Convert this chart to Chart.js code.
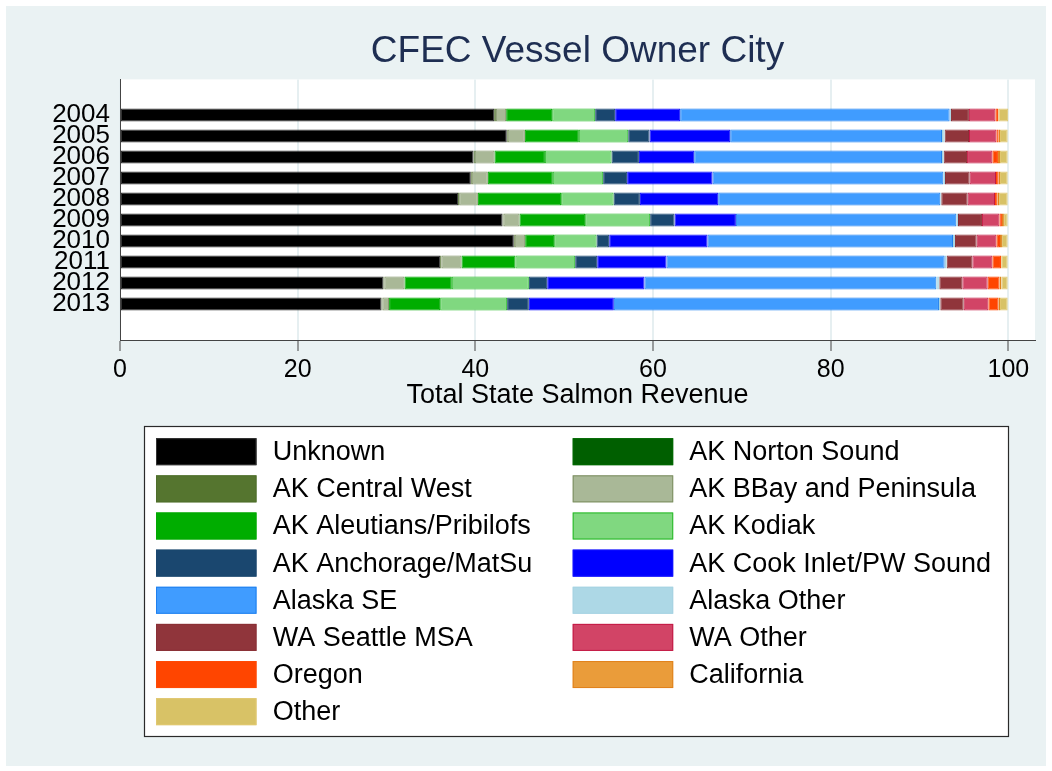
<!DOCTYPE html>
<html>
<head>
<meta charset="utf-8">
<style>
html,body{margin:0;padding:0;background:#ffffff;}
#wrap{width:1052px;height:771px;}
</style>
<script src="https://cdn.jsdelivr.net/npm/chart.js@4.4.1/dist/chart.umd.min.js"></script>
</head>
<body>
<div id="wrap"><canvas id="c" width="1052" height="771"></canvas></div>
<script>
const years = ['2004','2005','2006','2007','2008','2009','2010','2011','2012','2013'];
const xTicks = [0, 20, 40, 60, 80, 100];

const unknown       = [42.12, 43.54, 39.79, 39.49, 38.06, 43.06, 44.33, 36.04, 29.65, 29.43];
const nortonSound   = [0, 0, 0, 0, 0, 0, 0, 0, 0, 0];
const centralWest   = [0.19, 0.11, 0.15, 0.11, 0.12, 0.11, 0.11, 0.15, 0.12, 0.11];
const bbayPeninsula = [1.16, 1.92, 2.21, 1.80, 2.10, 1.80, 1.17, 2.25, 2.25, 0.75];
const aleutians     = [5.18, 6.08, 5.68, 7.32, 9.38, 7.39, 3.26, 6.08, 5.33, 5.75];
const kodiak        = [4.84, 5.56, 7.50, 5.67, 5.90, 7.32, 4.77, 6.72, 8.67, 7.54];
const anchorage     = [2.25, 2.40, 3.08, 2.70, 2.96, 2.74, 1.43, 2.48, 2.07, 2.44];
const cookInlet     = [7.32, 9.08, 6.23, 9.61, 8.82, 6.91, 11.07, 7.80, 10.95, 9.57];
const alaskaSE      = [30.33, 23.84, 27.89, 25.98, 25.00, 24.81, 27.63, 31.31, 32.85, 36.60];
const alaskaOther   = [0.15, 0.30, 0.19, 0.19, 0.11, 0.19, 0.22, 0.23, 0.34, 0.15];
const waSeattle     = [2.02, 2.74, 2.63, 2.77, 2.97, 2.70, 2.44, 2.89, 2.59, 2.63];
const waOther       = [2.98, 3.08, 2.85, 2.97, 3.08, 1.96, 2.22, 2.25, 2.85, 2.78];
const oregon        = [0.30, 0.26, 0.63, 0.30, 0.26, 0.29, 0.41, 0.97, 1.32, 1.12];
const california    = [0.07, 0.15, 0.23, 0.15, 0.19, 0.22, 0.22, 0.03, 0.22, 0.19];
const other         = [1.08, 0.86, 0.86, 0.86, 0.97, 0.42, 0.64, 0.72, 0.71, 0.86];

const seriesNames = ['Unknown','AK Norton Sound','AK Central West','AK BBay and Peninsula','AK Aleutians/Pribilofs','AK Kodiak','AK Anchorage/MatSu','AK Cook Inlet/PW Sound','Alaska SE','Alaska Other','WA Seattle MSA','WA Other','Oregon','California','Other'];
const seriesValues = [unknown, nortonSound, centralWest, bbayPeninsula, aleutians, kodiak, anchorage, cookInlet, alaskaSE, alaskaOther, waSeattle, waOther, oregon, california, other];
const fillColors = ['#000000','#005f00','#55752f','#a9b897','#00ad00','#80d880','#1a476f','#0000ff','#409cff','#add8e6','#90353b','#d24466','#ff4500','#ea9c3a','#d8c266'];
const lineColors = ['#333333','#006a00','#4e6e2a','#7d8f62','#02a802','#28bb28','#1a476f','#1010ff','#1f80ee','#a6d3e2','#8a3036','#c41a45','#ff4a05','#e0821c','#e1c870'];

const FONT = "'Liberation Sans', Arial, Helvetica, sans-serif";

const bgPlugin = {
  id: 'bg',
  beforeDraw(chart) {
    const ctx = chart.ctx, a = chart.chartArea;
    ctx.save();
    ctx.fillStyle = '#ffffff';
    ctx.fillRect(0, 0, chart.width, chart.height);
    ctx.fillStyle = '#eaf2f3';
    ctx.fillRect(6, 6, 1040, 760);
    ctx.fillStyle = '#ffffff';
    ctx.fillRect(a.left, a.top, a.right - a.left, a.bottom - a.top);
    ctx.restore();
  }
};

const legendPlugin = {
  id: 'boxLegend',
  afterDraw(chart) {
    const ctx = chart.ctx;
    ctx.save();
    ctx.fillStyle = '#ffffff';
    ctx.fillRect(144, 426, 865, 310);
    ctx.strokeStyle = '#2a2a2a';
    ctx.lineWidth = 1.2;
    ctx.strokeRect(144.5, 426.5, 864, 310);
    const colSwatch = [156, 572.7];
    const colText = [272.7, 689.3];
    ctx.font = '27px ' + FONT;
    ctx.textBaseline = 'middle';
    ctx.textAlign = 'left';
    chart.data.datasets.forEach((ds, i) => {
      const col = i % 2, row = Math.floor(i / 2);
      const cy = 451.7 + row * 37.14;
      ctx.fillStyle = ds.backgroundColor;
      ctx.fillRect(colSwatch[col], cy - 13.5, 100.5, 27);
      ctx.strokeStyle = ds.borderColor;
      ctx.lineWidth = 1;
      ctx.strokeRect(colSwatch[col] + 0.5, cy - 13, 99.5, 26);
      ctx.fillStyle = '#000000';
      ctx.fillText(ds.label, colText[col], cy + 1);
    });
    ctx.restore();
  }
};

const datasets = seriesNames.map((name, s) => ({
  label: name,
  data: seriesValues[s].map((v, i) => ({ x: v, y: i })),
  backgroundColor: fillColors[s],
  borderColor: lineColors[s],
  borderWidth: 1,
  borderSkipped: false,
  barPercentage: 0.62,
  categoryPercentage: 1.0
}));

new Chart(document.getElementById('c'), {
  type: 'bar',
  data: { datasets },
  plugins: [bgPlugin, legendPlugin],
  options: {
    indexAxis: 'y',
    responsive: false,
    animation: false,
    events: [],
    layout: { padding: { left: 0, right: 17, top: 0, bottom: 356 } },
    plugins: {
      legend: { display: false },
      tooltip: { enabled: false },
      title: {
        display: true,
        fullSize: false,
        text: 'CFEC Vessel Owner City',
        color: '#1e2e52',
        font: { family: FONT, size: 37, weight: 'normal' },
        padding: { top: 30, bottom: 5 }
      }
    },
    scales: {
      x: {
        type: 'linear',
        stacked: true,
        min: 0,
        max: 103,
        afterBuildTicks(scale) {
          scale.ticks = xTicks.map(v => ({ value: v }));
        },
        afterFit(scale) { scale.height = 75; },
        ticks: {
          color: '#000000',
          font: { family: FONT, size: 25 },
          padding: 4,
          maxRotation: 0
        },
        grid: {
          color: '#e6eff1',
          lineWidth: 2,
          tickColor: '#444444',
          tickWidth: 1,
          tickLength: 11
        },
        border: { display: true, color: '#444444', width: 1 },
        title: {
          display: true,
          text: 'Total State Salmon Revenue',
          color: '#000000',
          font: { family: FONT, size: 27 },
          padding: { top: 0, bottom: 3 }
        }
      },
      y: {
        type: 'linear',
        stacked: true,
        reverse: true,
        offset: false,
        min: -1.69,
        max: 10.71,
        afterBuildTicks(scale) {
          scale.ticks = years.map((y, i) => ({ value: i }));
        },
        afterFit(scale) { scale.width = 120; },
        ticks: {
          color: '#000000',
          font: { family: FONT, size: 26 },
          padding: 10,
          autoSkip: false,
          callback: (v) => years[v] !== undefined ? years[v] : ''
        },
        grid: { display: false, offset: false, drawTicks: false },
        border: { display: true, color: '#444444', width: 1 }
      }
    }
  }
});
</script>
</body>
</html>
